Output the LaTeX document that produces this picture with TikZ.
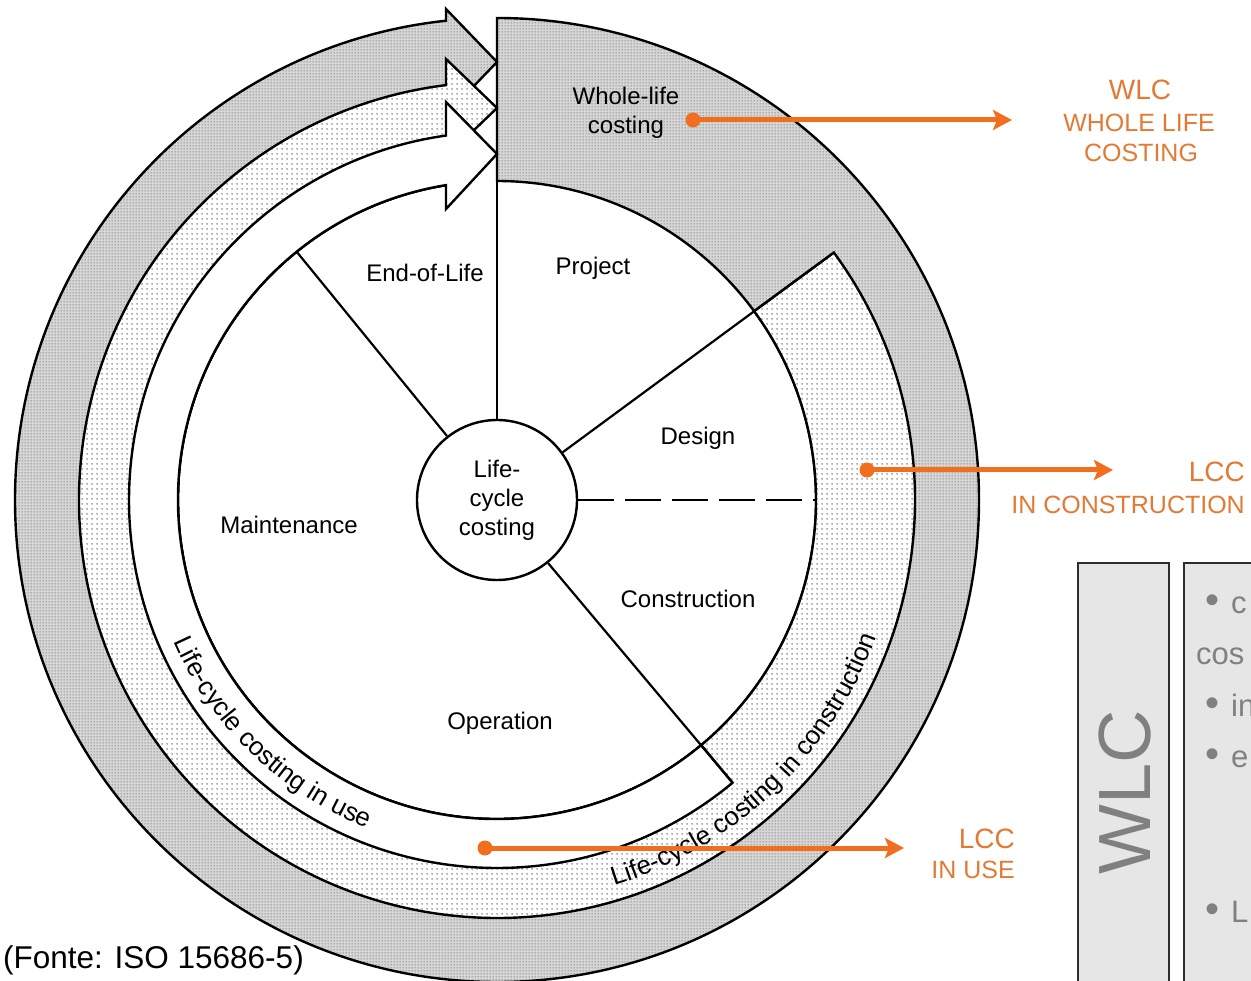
\documentclass[tikz,border=0pt]{standalone}
\usepackage{fontspec}
\setmainfont{Liberation Sans}
\usetikzlibrary{arrows.meta,patterns.meta,decorations.text}

\definecolor{arroworange}{RGB}{240,110,30}
\definecolor{labelorange}{RGB}{226,122,52}
\definecolor{boxfill}{RGB}{230,230,230}
\definecolor{boxtext}{RGB}{128,128,128}
\definecolor{boxline}{RGB}{45,45,45}

% textures of the rings
\tikzdeclarepattern{name=densedots, type=uncolored,
  bounding box={(0pt,0pt) and (3pt,3pt)}, tile size={(3pt,3pt)},
  code={\fill (1.5pt,1.5pt) circle[radius=0.8pt];}}
\tikzdeclarepattern{name=sparsedots, type=uncolored,
  bounding box={(0pt,0pt) and (5pt,5pt)}, tile size={(5pt,5pt)},
  code={\fill (2.5pt,2.5pt) circle[radius=0.95pt];}}

\newcommand\lblfont{\fontsize{24}{29}\selectfont}
\newcommand\arcfont{\fontsize{26}{26}\selectfont}

\begin{document}
\begin{tikzpicture}[x=1pt,y=1pt,
  ring/.style={draw=black, line width=2.4pt, line join=miter},
  wholelife/.style={ring, preaction={fill=black!16}, pattern=densedots, pattern color=black!62},
  construct/.style={ring, preaction={fill=white}, pattern=sparsedots, pattern color=black!62},
  inuse/.style={ring, fill=white},
  divider/.style={draw=black, line width=2.2pt},
  phase/.style={font=\lblfont, inner sep=0pt, align=center},
  callout/.style={draw=arroworange, line width=5pt, -{Stealth[length=19pt,width=20pt,inset=4pt]}},
  calldot/.style={circle, fill=arroworange, minimum size=15pt, inner sep=0pt},
  title/.style={text=labelorange, inner sep=0pt, font=\fontsize{28}{28}\selectfont},
  subtitle/.style={text=labelorange, inner sep=0pt, font=\fontsize{25}{25}\selectfont},
  panel/.style={draw=boxline, line width=1.5pt, fill=boxfill},
  paneltext/.style={text=boxtext, inner sep=0pt, anchor=base west, font=\fontsize{31}{31}\selectfont}
]
\useasboundingbox (0,0) rectangle (1251,-981);
\clip (0,0) rectangle (1251,-981);

\begin{scope}[shift={(497,-500)}]
  % whole-life costing ring
  \path[wholelife] (90:319pt) -- (90:482pt)
    arc[start angle=90, end angle=-263.93, radius=482pt]
    -- (-51,491) -- (0,438) -- (-51,385)
    -- (-260.80:319pt) arc[start angle=-260.80, end angle=90, radius=319pt] -- cycle;
  % life-cycle costing in construction
  \path[construct] (36.3:319pt) -- (36.3:418pt)
    arc[start angle=36.3, end angle=-262.99, radius=418pt]
    -- (-51,441) -- (0,392) -- (-51,343)
    -- (-260.80:319pt) arc[start angle=-260.80, end angle=36.3, radius=319pt] -- cycle;
  % life-cycle costing in use
  \path[inuse] (-50.2:319pt) -- (-50.2:368pt)
    arc[start angle=-50.2, end angle=-262.03, radius=368pt]
    -- (-51,398) -- (0,346) -- (-51,291)
    -- (-260.80:319pt) arc[start angle=-260.80, end angle=-50.2, radius=319pt] -- cycle;

  % hub
  \node[circle, draw=black, line width=2.4pt, fill=white, minimum size=160pt,
        inner sep=0pt, align=center, font=\lblfont] (lcc) at (0,0) {Life-\\cycle\\costing};

  % phase boundaries
  \draw[divider] (lcc.90) -- (90:319pt);
  \draw[divider] (lcc.36.3) -- (36.3:418pt);
  \draw[divider, dash pattern=on 36pt off 11pt] (lcc.0) -- (0:319pt);
  \draw[divider] (lcc.309.8) -- (-50.2:368pt);
  \draw[divider] (lcc.128.9) -- (128.9:319pt);

  % ring captions
  \path[decorate, decoration={text along path, text align=center,
        text={|\arcfont|Life-cycle costing in construction}}]
    (-88:403pt) arc[start angle=-88, end angle=-5, radius=403pt];
  \path[decorate, decoration={text along path, text align=center,
        text={|\arcfont|Life-cycle costing in use}}]
    (-172:353pt) arc[start angle=-172, end angle=-96, radius=353pt];
\end{scope}

% phase labels
\node[phase] (wlring) at (626,-113) {Whole-life\\costing};
\node[phase, anchor=base] (project) at (593,-275) {Project};
\node[phase, anchor=base] (eol) at (425,-282) {End-of-Life};
\node[phase, anchor=base] (design) at (698,-445) {Design};
\node[phase, anchor=base] (maint) at (289,-533) {Maintenance};
\node[phase, anchor=base] (constr) at (688,-607) {Construction};
\node[phase, anchor=base] (oper) at (500,-729) {Operation};

% callouts
\node[calldot] (dw) at (693,-120) {};
\coordinate (tw) at (1012,-120);
\draw[callout] (dw.center) -- (tw);
\node[calldot] (dc) at (867,-470) {};
\coordinate (tc) at (1113,-470);
\draw[callout] (dc.center) -- (tc);
\node[calldot] (du) at (485,-848) {};
\coordinate (tu) at (904,-848);
\draw[callout] (du.center) -- (tu);

\node[title, anchor=base] (wlct) at (1140,-100) {WLC};
\node[subtitle, anchor=base] (wlcs1) at (1139,-132) {WHOLE LIFE};
\node[subtitle, anchor=base] (wlcs2) at (1141,-162) {COSTING};
\node[title, anchor=base east] (lcct) at (1245,-482) {LCC};
\node[subtitle, anchor=base east] (lccs) at (1245,-513) {IN CONSTRUCTION};
\node[title, anchor=base east] (lcut) at (1015,-848) {LCC};
\node[subtitle, anchor=base east] (lcus) at (1015,-878) {IN USE};

\node[inner sep=0pt, anchor=base west, font=\fontsize{31.5}{31.5}\selectfont] (src) at (3,-968) {(Fonte: ISO 15686-5)};

% side panels
\draw[panel] (1078,-563) rectangle (1169,-1000);
\draw[panel] (1184,-563) rectangle (1300,-1000);
\node[rotate=90, text=boxtext, inner sep=0pt, font=\fontsize{74}{74}\selectfont] (wlcv) at (1125,-792) {WLC};
\node[paneltext] (p1) at (1205,-613) {{\fontsize{40}{40}\selectfont •}\hspace{12pt}c};
\node[paneltext] (p2) at (1196,-664) {cos};
\node[paneltext] (p3) at (1205,-716) {{\fontsize{40}{40}\selectfont •}\hspace{12pt}in};
\node[paneltext] (p4) at (1205,-767) {{\fontsize{40}{40}\selectfont •}\hspace{12pt}e};
\node[paneltext] (p5) at (1205,-922) {{\fontsize{40}{40}\selectfont •}\hspace{12pt}L};
\end{tikzpicture}
\end{document}
